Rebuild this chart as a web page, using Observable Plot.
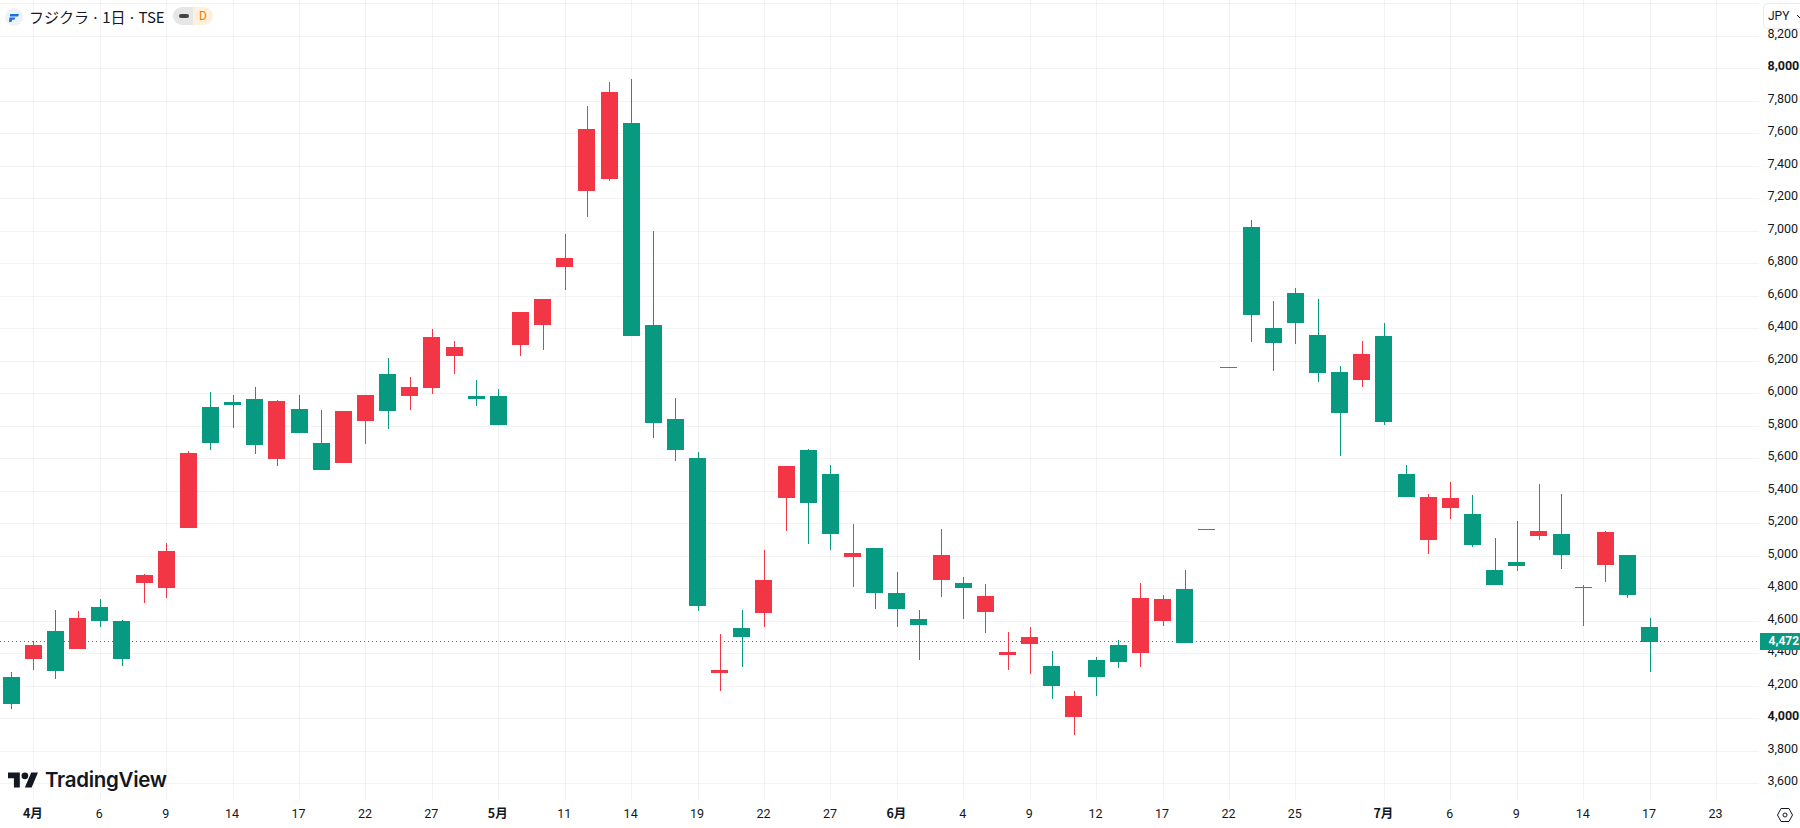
<!DOCTYPE html>
<html lang="ja">
<head>
<meta charset="utf-8">
<title>フジクラ・1日・TSE</title>
<script src="https://cdn.jsdelivr.net/npm/d3@7"></script>
<script src="https://cdn.jsdelivr.net/npm/@observablehq/plot@0.6"></script>
<style>
  html, body { margin: 0; padding: 0; background: #fff; overflow: hidden; }
  #wrap { position: relative; width: 1800px; height: 828px; overflow: hidden; }
  #wrap svg.plot { display: block; }
  .over { position: absolute; box-sizing: border-box; }
  #symbol { left: 5px; top: 8px; width: 18px; height: 18px; border-radius: 50%; background: #eef2f9; }
  #title { left: 29px; top: 6px; height: 22px; font: 400 15px/22px "Noto Sans CJK JP", sans-serif; word-spacing: -1px; color: #131722; white-space: pre; }
  #badge { left: 173px; top: 7px; width: 40px; height: 18px; border-radius: 9px; overflow: hidden; display: flex; }
  #badge .a { width: 20px; background: #e6e6e6; position: relative; }
  #badge .a i { position: absolute; left: 6px; top: 7px; width: 10px; height: 4px; border-radius: 2px; background: #444; }
  #badge .b { width: 20px; background: #fff0dc; color: #f57c00; font: 400 12px/18px Roboto, sans-serif; text-align: center; }
  #currency { left: 1763px; top: 3px; width: 40px; height: 26px; background: #fff; border: 1px solid #e8eaef; border-radius: 5px 0 0 5px; color: #131722; font: 400 12px/24px Roboto, sans-serif; padding-left: 4px; white-space: nowrap; }
  #currency svg { margin-left: 7px; }
  #logo { left: 8px; top: 769px; }
  #logotext { left: 45px; top: 766px; font: 600 20.5px/28px Inter, sans-serif; color: #131722; letter-spacing: -0.3px; }
  #settings { left: 1776px; top: 806px; }
</style>
</head>
<body>
<div id="wrap">
  <div class="over" id="symbol"><svg width="18" height="18" viewBox="0 0 18 18"><path d="M5 6h9l-1 2.4H5zM4.4 9.6h6l-1 2.2H7.2L6.4 14H4z" fill="#1e6fd9"/></svg></div>
  <div class="over" id="title">フジクラ · 1日 · TSE</div>
  <div class="over" id="badge"><div class="a"><i></i></div><div class="b">D</div></div>
  <div class="over" id="currency">JPY<svg width="8" height="6" viewBox="0 0 8 6"><path d="M1 1l3 3 3-3" fill="none" stroke="#131722"/></svg></div>
  <svg class="over" id="logo" width="30.4" height="23.7" viewBox="0 0 36 28" fill="#131722"><path d="M14 22H7V11H0V4h14v18zM28 22h-8l7.5-18h8L28 22z"/><circle cx="20" cy="8" r="4"/></svg>
  <div class="over" id="logotext">TradingView</div>
  <svg class="over" id="settings" width="18" height="18" viewBox="0 0 18 18" fill="none" stroke="#131722"><path d="M5 2.5h8L16.5 9 13 15.5H5L1.5 9z"/><circle cx="9" cy="9" r="2"/></svg>
</div>
<script>
// Daily candles, in JPY
const opens = [4254,4365,4540,4427,4685,4599,4833,4802,5171,5916,5947,5965,5596,5903,5694,5571,5830,6119,5983,6033,6230,5983,5983,6297,6420,6777,7245,7319,7663,6420,5842,5602,4279,4556,4648,5356,5651,5503,4993,5048,4771,4611,4851,4833,4654,4390,4457,4322,4008,4359,4451,4402,4599,4796,5160,6157,7023,6402,6617,6359,6131,6082,6353,5503,5097,5294,5257,4913,4962,5122,5134,4799,4943,5005,4562];
const highs = [4285,4476,4666,4660,4734,4605,4888,5079,5645,6008,5990,6039,5959,5990,5897,5891,5990,6217,6100,6396,6322,6082,6026,6500,6580,6980,7768,7916,7934,6999,5971,5639,4519,4666,5036,5553,5657,5559,5196,5048,4900,4666,5165,4869,4826,4531,4562,4414,4168,4377,4482,4833,4759,4913,5166,6163,7067,6568,6648,6580,6168,6322,6433,5559,5380,5454,5374,5110,5214,5442,5380,4820,5153,5005,4617];
const lows = [4057,4297,4242,4427,4562,4322,4710,4740,5171,5651,5787,5627,5553,5756,5528,5571,5688,5780,5897,5996,6119,5922,5805,6230,6266,6636,7085,7307,6353,5725,5583,4660,4168,4316,4562,5153,5073,5036,4808,4673,4562,4359,4746,4611,4525,4297,4273,4119,3897,4137,4309,4316,4568,4463,5160,6157,6316,6137,6303,6070,5614,6039,5805,5362,5011,5227,5054,4820,4906,5097,4919,4568,4839,4740,4285];
const closes = [4088,4451,4291,4617,4599,4365,4882,5030,5633,5694,5928,5682,5953,5756,5528,5891,5990,5891,6039,6347,6285,5965,5805,6500,6580,6833,7627,7854,6353,5817,5651,4691,4297,4500,4851,5553,5325,5134,5017,4771,4673,4574,5005,4802,4753,4408,4500,4199,4137,4254,4346,4740,4734,4463,5166,6163,6482,6310,6433,6125,5879,6242,5823,5362,5362,5356,5066,4820,4937,5153,5005,4805,5147,4759,4472];
const lastPrice = 4472;

// Time axis: bar index of each label, and its text
const timeTickBars = [1,4,7,10,13,16,19,22,25,28,31,34,37,40,43,46,49,52,55,58,62,65,68,71,74,77];
const timeTickLabels = ["4月","6","9","14","17","22","27","5月","11","14","19","22","27","6月","4","9","12","17","22","25","7月","6","9","14","17","23"];
const monthLabels = ["4月","5月","6月","7月"];

// Price axis
const priceGrid = d3.range(3600, 8401, 200);
const priceTicks = d3.range(3600, 8201, 200);
const boldPrices = [4000, 8000];

const upColor = "#f23645";
const downColor = "#089981";
const gridColor = "#2e2e2e";

const bars = opens.map((o, i) => ({i, open: o, high: highs[i], low: lows[i], close: closes[i]}));
const colorOf = d => d.close < d.open ? downColor : upColor;
const halfBody = 0.384;
const labelOf = new Map(timeTickBars.map((b, k) => [b, timeTickLabels[k]]));
const barsNormal = timeTickBars.filter(b => !monthLabels.includes(labelOf.get(b)));
const barsMonth = timeTickBars.filter(b => monthLabels.includes(labelOf.get(b)));
const priceFmt = d3.format(",");

const chart = Plot.plot({
  width: 1800, height: 828,
  marginLeft: 0, marginRight: 41, marginTop: 0, marginBottom: 28,
  style: {fontFamily: "Roboto, sans-serif", fontSize: "12.5px", color: "#131722", background: "#fff"},
  x: {type: "linear", domain: [-0.506, 78.94], axis: null},
  y: {type: "linear", domain: [3497, 8420.4], axis: null},
  color: {type: "identity"},
  marks: [
    Plot.ruleY(priceGrid, {y: d => d, stroke: gridColor, strokeOpacity: 0.06, shapeRendering: "crispEdges"}),
    Plot.ruleX(timeTickBars, {x: d => d, stroke: gridColor, strokeOpacity: 0.06, shapeRendering: "crispEdges"}),
    Plot.ruleY([lastPrice], {y: d => d, dy: -0.5, stroke: downColor, strokeDasharray: "1 3", shapeRendering: "crispEdges"}),
    Plot.ruleX(bars, {x: "i", y1: "low", y2: "high", stroke: colorOf, shapeRendering: "crispEdges"}),
    Plot.rect(bars, {x1: d => d.i - halfBody, x2: d => d.i + halfBody, y1: "open", y2: "close", fill: colorOf, shapeRendering: "crispEdges"}),
    Plot.axisY(priceTicks.filter(d => !boldPrices.includes(d)), {anchor: "right", tickSize: 0, tickPadding: 8, dy: -2.5, tickFormat: priceFmt, label: null, fill: "#131722", textAnchor: "start"}),
    Plot.axisY(boldPrices, {anchor: "right", tickSize: 0, tickPadding: 8, dy: -2.5, tickFormat: priceFmt, label: null, fill: "#131722", fontWeight: 700, textAnchor: "start"}),
    Plot.axisX(barsNormal, {anchor: "bottom", tickSize: 0, tickPadding: 9, dx: -1, tickFormat: b => labelOf.get(b), label: null, fill: "#131722"}),
    Plot.axisX(barsMonth, {anchor: "bottom", tickSize: 0, tickPadding: 9, dx: -1, tickFormat: b => labelOf.get(b), label: null, fill: "#131722", fontWeight: 700, fontFamily: "'Noto Sans CJK JP', sans-serif"}),
    Plot.ruleY([lastPrice], {y: d => d, dy: -0.5, x1: 79, x2: 81, stroke: downColor, strokeWidth: 17, shapeRendering: "crispEdges"}),
    Plot.text([lastPrice], {y: d => d, x: 79.35, dy: -1, text: priceFmt, fill: "#fff", textAnchor: "start", fontWeight: 700, fontSize: 12})
  ]
});
chart.classList.add("plot");
document.getElementById("wrap").prepend(chart);
</script>
</body>
</html>
